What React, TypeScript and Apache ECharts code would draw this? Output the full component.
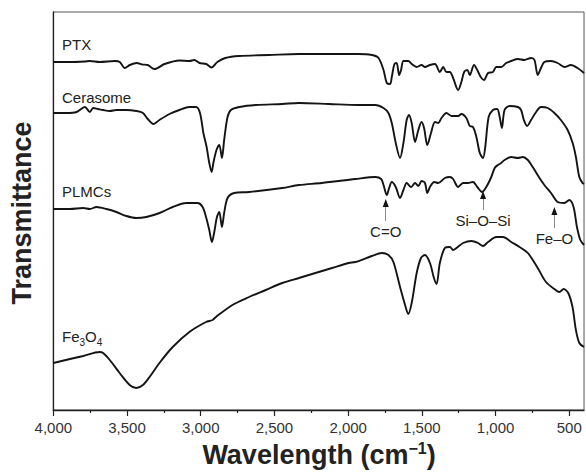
import React, { useEffect, useRef } from "react";
import * as echarts from "echarts";

// FTIR spectra: [wavenumber (cm-1), transmittance (a.u., offset traces)]
const ptx: [number, number][] = [
  [4000, 348], [3887, 348], [3786, 348.5], [3752, 349], [3685, 348], [3583, 349], [3549, 348],
  [3515, 342], [3481, 345], [3434, 347], [3394, 345.5], [3360, 345], [3313, 341], [3245, 346],
  [3144, 349.5], [3077, 349], [3043, 350], [3009, 347], [2962, 346], [2928, 342.5], [2887, 348],
  [2834, 352], [2739, 354], [2537, 355], [2334, 356], [2131, 356], [1932, 356], [1839, 355],
  [1794, 352], [1760, 340], [1738, 327], [1715, 326], [1704, 333], [1686, 346], [1671, 347],
  [1654, 335], [1641, 340], [1625, 349], [1592, 349], [1569, 346], [1535, 343], [1502, 345],
  [1479, 343], [1445, 345], [1411, 346], [1378, 338], [1355, 343], [1333, 338], [1310, 338],
  [1288, 332], [1254, 320], [1232, 328], [1213, 338], [1191, 340], [1175, 335], [1146, 345],
  [1124, 340], [1101, 333], [1078, 330], [1051, 337], [1018, 338], [995, 343], [962, 343],
  [928, 347], [894, 349], [849, 351], [804, 350], [759, 352], [736, 350], [714, 335], [692, 342],
  [669, 348], [624, 349], [579, 347], [533, 343], [489, 345], [444, 342], [400, 337],
];

const cerasome: [number, number][] = [
  [4000, 297], [3910, 297], [3842, 298], [3786, 303], [3752, 298], [3730, 302], [3696, 301],
  [3662, 300], [3617, 299], [3572, 300], [3504, 300], [3437, 299], [3392, 297], [3359, 291],
  [3320, 286], [3280, 290], [3212, 296], [3145, 300], [3077, 303], [3032, 303], [3005, 297],
  [2982, 277], [2960, 263], [2942, 247], [2926, 238], [2913, 248], [2893, 260], [2874, 265],
  [2856, 252], [2841, 270], [2818, 293], [2795, 300], [2739, 303], [2627, 305], [2447, 306],
  [2334, 307], [2131, 306], [1932, 305], [1816, 305], [1760, 302], [1727, 297], [1704, 287],
  [1677, 267], [1648, 252], [1625, 267], [1603, 290], [1587, 295], [1569, 287], [1546, 268],
  [1524, 280], [1502, 288], [1485, 282], [1463, 265], [1438, 277], [1411, 288], [1389, 287],
  [1367, 292], [1333, 297], [1299, 294], [1254, 294], [1232, 296], [1198, 292], [1175, 284],
  [1153, 283], [1130, 273], [1107, 257], [1085, 252], [1070, 263], [1047, 293], [1018, 300],
  [989, 301], [972, 293], [957, 282], [939, 300], [905, 304], [849, 303], [827, 300], [808, 290],
  [786, 284], [759, 290], [725, 298], [692, 303], [646, 302], [601, 297], [557, 290], [511, 280],
  [477, 267], [455, 253], [432, 233], [410, 227], [400, 226],
];

const plmcs: [number, number][] = [
  [4000, 201], [3887, 201], [3797, 202], [3752, 201], [3707, 203], [3639, 201], [3572, 198],
  [3504, 194], [3437, 192], [3369, 193], [3279, 197], [3190, 203], [3099, 207], [3021, 207],
  [2987, 203], [2964, 193], [2942, 180], [2924, 168], [2908, 178], [2890, 193], [2874, 198],
  [2856, 183], [2841, 197], [2818, 212], [2773, 217], [2672, 218], [2447, 222], [2334, 225],
  [2179, 227], [1951, 231], [1816, 233], [1776, 231], [1760, 225], [1738, 215], [1722, 222],
  [1704, 228], [1677, 223], [1648, 212], [1625, 220], [1603, 227], [1573, 223], [1546, 227],
  [1524, 224], [1502, 229], [1479, 227], [1463, 217], [1445, 223], [1416, 228], [1389, 227],
  [1344, 232], [1310, 233], [1288, 231], [1254, 223], [1220, 227], [1187, 227], [1153, 228],
  [1124, 223], [1092, 218], [1063, 223], [1029, 233], [1006, 242], [984, 245], [962, 247],
  [939, 250], [894, 253], [849, 252], [815, 253], [781, 250], [748, 243], [702, 232], [669, 225],
  [624, 217], [579, 208], [533, 207], [500, 210], [471, 203], [448, 183], [425, 170], [400, 165],
];

const fe3o4: [number, number][] = [
  [4000, 47], [3887, 51], [3797, 54], [3685, 58], [3662, 57], [3617, 50], [3550, 37], [3482, 25],
  [3437, 22], [3392, 25], [3347, 33], [3280, 47], [3190, 63], [3077, 78], [2964, 88], [2920, 90],
  [2897, 93], [2785, 105], [2672, 113], [2559, 120], [2447, 127], [2334, 132], [2222, 137],
  [2109, 142], [1997, 147], [1951, 148], [1839, 154], [1772, 157], [1727, 155], [1693, 148],
  [1648, 123], [1614, 105], [1592, 96], [1569, 107], [1535, 137], [1506, 152], [1479, 155],
  [1445, 147], [1418, 132], [1400, 126], [1378, 147], [1344, 162], [1310, 163], [1288, 160],
  [1265, 162], [1220, 167], [1164, 169], [1119, 167], [1085, 164], [1051, 168], [995, 173],
  [950, 173], [894, 168], [837, 163], [781, 157], [714, 142], [658, 128], [601, 121], [567, 118],
  [538, 121], [507, 117], [478, 103], [455, 80], [432, 67], [400, 63],
];

const majorTicks = [500, 1000, 1500, 2000, 2500, 3000, 3500, 4000];
const minorTicks = [750, 1250, 1750, 2250, 2750, 3250, 3750];

// annotation arrows on PLMCs: [label, wavenumber, tail value, tip value]
const bandLabels: [string, number, number, number][] = [
  ["C=O", 1745, 189, 210],
  ["Si–O–Si", 1085, 200, 218],
  ["Fe–O", 601, 182, 202],
];

const FONT = "'Liberation Sans', Arial, Helvetica, sans-serif";

export default function App() {
  const ref = useRef<HTMLDivElement>(null);

  useEffect(() => {
    document.body.style.margin = "0";
    if (!ref.current) return;
    const chart = echarts.init(ref.current, undefined, { renderer: "svg" });

    const lineSeries = (name: string, data: [number, number][], extra: any = {}) => ({
      name,
      type: "line",
      data,
      xAxisIndex: 0,
      yAxisIndex: 0,
      showSymbol: false,
      symbol: "none",
      smooth: 0.3,
      lineStyle: { color: "#141414", width: 1.9 },
      emphasis: { disabled: true },
      silent: true,
      ...extra,
    });

    const textStyle = (text: string, x: number, y: number) => ({
      type: "text",
      x,
      y,
      silent: true,
      style: {
        text,
        fontFamily: FONT,
        fontSize: 15,
        fill: "#222",
        align: "left",
        verticalAlign: "middle",
      },
    });

    chart.setOption({
      animation: false,
      grid: {
        left: 53.3,
        right: 0.7,
        top: 12,
        bottom: 62,
        show: true,
        borderColor: "#555",
        borderWidth: 1,
        backgroundColor: "transparent",
      },
      xAxis: [
        {
          type: "value",
          inverse: true,
          min: 400,
          max: 4000,
          position: "bottom",
          axisLine: { show: true, lineStyle: { color: "#222", width: 1.3 } },
          axisTick: {
            show: true,
            customValues: majorTicks,
            length: 6,
            lineStyle: { color: "#222", width: 1.2 },
          },
          axisLabel: {
            show: true,
            customValues: majorTicks,
            formatter: (v: number) => v.toLocaleString("en-US"),
            fontFamily: FONT,
            fontSize: 15,
            color: "#333",
            margin: 10,
          },
          splitLine: { show: false },
        },
        {
          type: "value",
          inverse: true,
          min: 400,
          max: 4000,
          position: "bottom",
          axisLine: { show: false },
          axisTick: {
            show: true,
            customValues: minorTicks,
            length: 3,
            lineStyle: { color: "#222", width: 1.2 },
          },
          axisLabel: { show: false },
          splitLine: { show: false },
        },
      ],
      yAxis: {
        type: "value",
        min: 0,
        max: 398,
        axisLine: { show: true, lineStyle: { color: "#222", width: 1.3 } },
        axisTick: { show: false },
        axisLabel: { show: false },
        splitLine: { show: false },
      },
      series: [
        lineSeries("PTX", ptx),
        lineSeries("Cerasome", cerasome),
        lineSeries("PLMCs", plmcs, {
          markLine: {
            silent: true,
            symbol: ["none", "none"],
            emphasis: { disabled: true },
            lineStyle: { color: "#8a8a8a", width: 1, type: "solid" },
            label: {
              show: true,
              position: "start",
              distance: 3,
              fontFamily: FONT,
              fontSize: 15,
              color: "#222",
            },
            data: bandLabels.map(([label, w, tail, tip]) => [
              { coord: [w, tail], label: { formatter: label } },
              { coord: [w, tip - 3] },
            ]),
          },
          markPoint: {
            silent: true,
            symbol: "triangle",
            symbolSize: [6, 8],
            itemStyle: { color: "#111" },
            label: { show: false },
            emphasis: { disabled: true },
            data: bandLabels.map(([, w, , tip]) => ({ coord: [w, tip - 3] })),
          },
        }),
        lineSeries("Fe3O4", fe3o4),
      ],
      graphic: [
        textStyle("PTX", 62, 44.5),
        textStyle("Cerasome", 62, 97),
        textStyle("PLMCs", 62, 191.5),
        {
          type: "text",
          x: 62,
          y: 336,
          silent: true,
          style: {
            text: "{a|Fe}{b|3}{a|O}{b|4}",
            align: "left",
            verticalAlign: "middle",
            rich: {
              a: { fontFamily: FONT, fontSize: 15, fill: "#222", lineHeight: 22 },
              b: { fontFamily: FONT, fontSize: 10, fill: "#222", lineHeight: 8, verticalAlign: "bottom" },
            },
          },
        },
        {
          type: "text",
          x: 22,
          y: 213,
          rotation: Math.PI / 2,
          silent: true,
          style: {
            text: "Transmittance",
            fontFamily: FONT,
            fontSize: 27,
            fontWeight: "bold",
            fill: "#222",
            align: "center",
            verticalAlign: "middle",
          },
        },
        {
          type: "text",
          x: 319,
          y: 455,
          silent: true,
          style: {
            text: "{a|Wavelength (cm}{s|−1}{a|)}",
            align: "center",
            verticalAlign: "middle",
            rich: {
              a: { fontFamily: FONT, fontSize: 27, fontWeight: "bold", fill: "#222", lineHeight: 30 },
              s: { fontFamily: FONT, fontSize: 16, fontWeight: "bold", fill: "#222", verticalAlign: "top" },
            },
          },
        },
      ],
    });

    return () => chart.dispose();
  }, []);

  return <div ref={ref} style={{ width: 586, height: 472 }} />;
}
